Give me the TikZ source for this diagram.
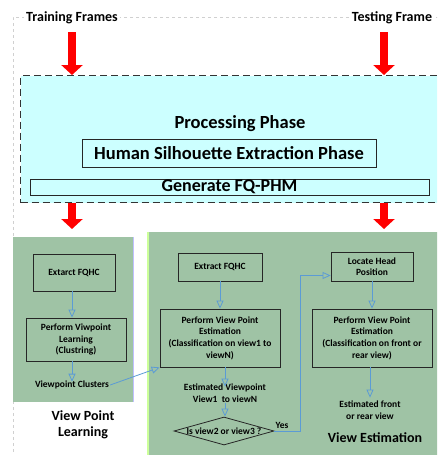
\documentclass[tikz,border=0pt]{standalone}
\usepackage{fontspec}
\setmainfont{Carlito}
\usetikzlibrary{arrows.meta,shapes.geometric}
\definecolor{cyanfill}{HTML}{CCFFFF}
\definecolor{greenfill}{HTML}{9FC3A5}
\definecolor{flowblue}{HTML}{5B9BD5}
\definecolor{framegray}{HTML}{D0D0D0}
\tikzset{
  redarrow/.style={draw=red, line width=8.5pt, -{Triangle[width=21pt,length=10pt]}},
  flowarrow/.style={draw=flowblue, line width=0.8pt, -{Triangle[open,width=7pt,length=8pt]}},
  flowline/.style={draw=flowblue, line width=0.8pt},
  smallbox/.style={draw=black!85, line width=0.8pt, align=center, inner sep=1pt,
    font=\bfseries\fontsize{9.5}{11.6}\selectfont},
  smalltext/.style={align=center, inner sep=1pt, font=\bfseries\fontsize{9.5}{11.6}\selectfont},
  bigtext/.style={font=\bfseries\fontsize{18.5}{22}\selectfont, inner sep=0pt},
  titletext/.style={font=\bfseries\fontsize{14}{16.5}\selectfont, align=center, inner sep=0pt},
  headtext/.style={font=\bfseries\fontsize{14}{16}\selectfont, fill=white, inner sep=2pt},
}
\begin{document}
\begin{tikzpicture}[x=1pt,y=-1pt]
\useasboundingbox (0,0) rectangle (437,455);
\clip (0,0) rectangle (437,455);
% outer light frame
\draw[framegray, dashed, line width=0.6pt] (445,17) -| (13,460);
% header labels
\node[headtext] (train) at (72,18) {Training Frames};
\node[headtext] (test) at (392,18) {Testing Frame};
\coordinate (tx) at (384,32);
\coordinate (lx) at (72,32);
% processing box
\node[draw=black!80, dash pattern=on 7pt off 4pt, line width=1pt, fill=cyanfill,
      minimum width=425pt, minimum height=127pt, anchor=north west, inner sep=0pt] (proc) at (20,75) {};
\node[bigtext] (pp) at (240,124) {Processing Phase};
\node[bigtext, draw=black!85, line width=1pt, minimum width=294pt, minimum height=28pt] (hse) at (229,153) {Human Silhouette Extraction Phase};
\node[bigtext, font=\bfseries\fontsize{18}{22}\selectfont, draw=black!85, line width=1pt, minimum width=399pt, text height=11pt, text depth=3pt, inner ysep=1pt] (gen) at (229.5,187) {Generate FQ-PHM};
% red arrows in
\draw[redarrow] (lx) -- (lx |- proc.north);
\draw[redarrow] (tx) -- (tx |- proc.north);
% green boxes
\node[fill=greenfill, minimum width=120pt, minimum height=165pt, anchor=north west, inner sep=0pt] (lbox) at (13,237) {};
\draw[blue!25, line width=1pt] (lbox.north east) -- (lbox.south east);
\node[fill=greenfill, minimum width=300pt, minimum height=230pt, anchor=north west, inner sep=0pt] (rbox) at (148,232) {};
\draw[green!50!yellow!40, line width=1.2pt] (rbox.north west) -- (rbox.south west);
% red arrows out
\draw[redarrow, shorten >=8pt] (lx |- proc.south) -- (lx |- lbox.north);
\draw[redarrow, shorten >=3pt] (tx |- proc.south) -- (tx |- rbox.north);
% left content
\node[smallbox, minimum width=82pt, minimum height=37pt] (ex1) at (74,272.5) {Extarct FQHC};
\node[smallbox, minimum width=100pt, minimum height=43pt] (pl) at (76,339.5) {Perform Viwpoint\\Learning\\(Clustring)};
\node[smalltext] (vc) at (72,385) {Viewpoint Clusters};
\node[titletext] (vpl) at (83,425) {View Point\\Learning};
\draw[flowarrow] (vc.north |- ex1.south) -- (vc.north |- pl.north);
\draw[flowarrow] (vc.north |- pl.south) -- ([yshift=-2pt]vc.north);
% right content
\node[smallbox, minimum width=84pt, minimum height=28pt] (ex2) at (220,267) {Extract FQHC};
\node[smallbox, minimum width=120pt, minimum height=58pt] (pve) at (220,338) {Perform View Point\\Estimation\\(Classification on view1 to\\viewN)};
\node[smalltext] (ev) at (225,393) {Estimated Viewpoint\\View1~ to viewN};
\node[diamond, draw=black!85, line width=0.8pt, minimum width=100pt, minimum height=28pt, inner sep=0pt] (dia) at (224,431) {};
\node[smalltext] (diat) at (dia) {Is view2 or view3 ?};
\node[smalltext] (yes) at (282,425) {Yes};
\node[smallbox, minimum width=82pt, minimum height=29pt] (lh) at (372,266.5) {Locate Head\\Position};
\node[smallbox, minimum width=120pt, minimum height=58pt] (pve2) at (372,338) {Perform View Point\\Estimation\\(Classification on front or\\rear view)};
\node[smalltext] (efr) at (370,410) {Estimated front\\or rear view};
\node[titletext] (ve) at (375,438) {View Estimation};
% right connectors
\draw[flowarrow] (ex2.south) -- (pve.north);
\draw[flowarrow] (ev.north |- pve.south) -- ([yshift=-4pt]ev.north);
\draw[flowarrow] (ev.south) -- (ev.south |- dia.north);
\draw[flowarrow] (dia.east) -- ++(26,0) |- ([yshift=-9pt]lh.west);
\draw[flowarrow] (lh.south) -- (lh.south |- pve2.north);
\draw[flowarrow] (efr.north |- pve2.south) -- ([yshift=2pt]efr.north);
\draw[flowarrow] (vc.east) -- (pve.south west);
\end{tikzpicture}
\end{document}
